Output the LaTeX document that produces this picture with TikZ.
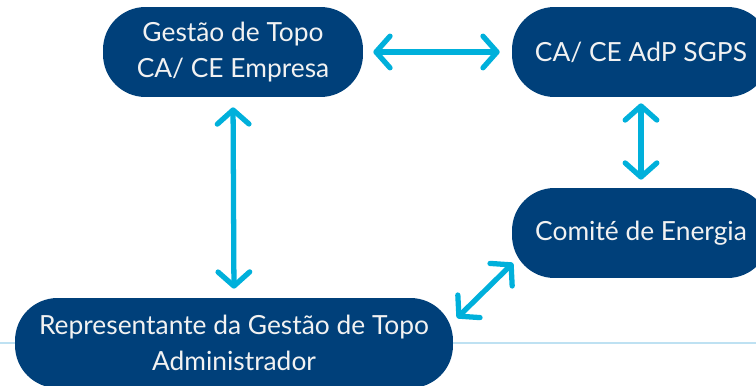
\documentclass[tikz,border=0pt]{standalone}
\usepackage{fontspec}
\setmainfont{Lato}
\usetikzlibrary{arrows.meta}

\definecolor{navy}{RGB}{0,64,122}
\definecolor{cyanarrow}{RGB}{0,176,219}
\definecolor{paleline}{RGB}{190,225,242}

\tikzset{
  box/.style = {fill = navy, text = white!95!black, rounded corners = 0.85cm,
    minimum height = 1.8cm, align = center, inner sep = 0pt,
    font = \fontsize{15}{20.5}\selectfont},
  link/.style = {cyanarrow, line width = 3pt, line cap = round,
    {Straight Barb[length = 8pt, width = 18pt, round]}-{Straight Barb[length = 8pt, width = 18pt, round]}}
}

\begin{document}
\begin{tikzpicture}[x = 0.02cm, y = -0.02cm]
%\draw [help lines] (0,0) grid (756,385);
    \useasboundingbox (0,0) rectangle (756,385);
    \draw [paleline, line width = 1.2pt] (0,343) -- (756,343);
    \node [box, minimum width = 5.2cm] (topo) at (233,52) {Gestão de Topo\\CA/ CE Empresa};
    \node [box, minimum width = 5.16cm] (sgps) at (641,52) {CA/ CE AdP SGPS};
    \node [box, minimum width = 5.16cm] (comite) at (641,233) {Comité de Energia};
    \node [box, minimum width = 8.76cm] (repr) at (234,343) {Representante da Gestão de Topo\\Administrador};
    \coordinate (d1) at (457,318);
    \coordinate (d2) at (513,263);
    \draw [link, shorten < = 0.2cm, shorten > = 0.24cm] (topo.east) -- (sgps.west);
    \draw [link, shorten < = 0.2cm, shorten > = 0.18cm] (topo.south) -- (repr.north);
    \draw [link, shorten < = 0.12cm, shorten > = 0.16cm] (sgps.south) -- (comite.north);
    \draw [link] (d1) -- (d2);
\end{tikzpicture}
\end{document}
